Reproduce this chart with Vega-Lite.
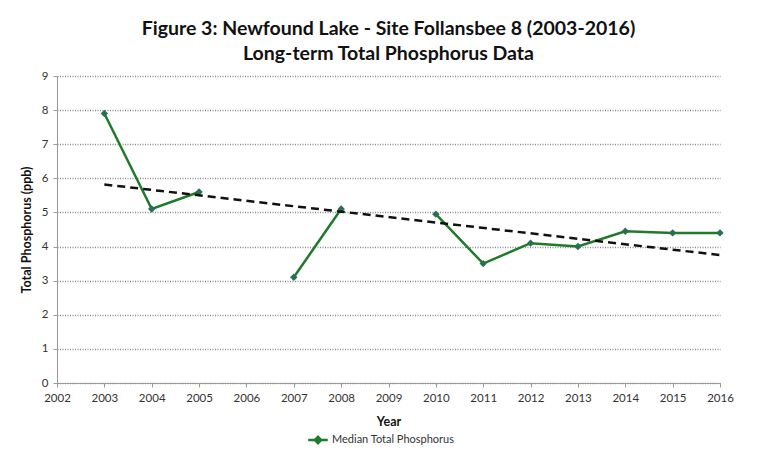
{
  "$schema": "https://vega.github.io/schema/vega-lite/v6.json",
  "width": 663,
  "height": 307,
  "autosize": {"type": "none"},
  "padding": {"left": 57, "top": 76, "right": 54, "bottom": 73},
  "background": "white",
  "config": {
    "font": "Lato",
    "view": {"stroke": null},
    "axis": {"labelFont": "Lato", "titleFont": "Lato", "labelColor": "#333333", "titleColor": "#111111", "labelFontSize": 11.5, "titleFontSize": 12.5, "titleFontWeight": "bold"}
  },
  "title": {
    "text": ["Figure 3: Newfound Lake - Site Follansbee 8 (2003-2016)", "Long-term Total Phosphorus Data"],
    "fontSize": 19.5,
    "fontWeight": "bold",
    "font": "Lato",
    "color": "#111111",
    "anchor": "middle",
    "frame": "group",
    "lineHeight": 25,
    "offset": 6
  },
  "datasets": {
    "tp": [
      {"year": 2003, "tp": 7.9},
      {"year": 2004, "tp": 5.1},
      {"year": 2005, "tp": 5.6},
      {"year": 2006, "tp": null},
      {"year": 2007, "tp": 3.1},
      {"year": 2008, "tp": 5.1},
      {"year": 2009, "tp": null},
      {"year": 2010, "tp": 4.95},
      {"year": 2011, "tp": 3.5},
      {"year": 2012, "tp": 4.1},
      {"year": 2013, "tp": 4.0},
      {"year": 2014, "tp": 4.45},
      {"year": 2015, "tp": 4.4},
      {"year": 2016, "tp": 4.4}
    ],
    "trend": [
      {"year": 2003, "tp": 5.82},
      {"year": 2016, "tp": 3.75}
    ]
  },
  "encoding": {
    "x": {
      "field": "year", "type": "quantitative",
      "scale": {"domain": [2002, 2016], "nice": false, "zero": false},
      "axis": {"title": "Year", "format": "d", "values": [2002,2003,2004,2005,2006,2007,2008,2009,2010,2011,2012,2013,2014,2015,2016], "grid": false, "labelFlush": false, "domainColor": "#999999", "tickColor": "#999999", "tickSize": 4, "labelPadding": 5, "titlePadding": 12}
    },
    "y": {
      "field": "tp", "type": "quantitative",
      "scale": {"domain": [0, 9], "nice": false},
      "axis": {"title": "Total Phosphorus (ppb)", "values": [0,1,2,3,4,5,6,7,8,9], "grid": true, "gridColor": "#888888", "gridDash": [1, 1.5], "gridWidth": 1.3, "domainColor": "#999999", "tickColor": "#999999", "tickSize": 4, "labelPadding": 5, "labelFlush": false, "titlePadding": 8}
    }
  },
  "layer": [
    {
      "data": {"name": "tp"},
      "mark": {"type": "line", "strokeWidth": 2.5},
      "encoding": {
        "color": {
          "datum": "Median Total Phosphorus",
          "type": "nominal",
          "scale": {"range": ["#1f7a2a"]},
          "legend": {
            "title": null,
            "orient": "none",
            "legendX": 250,
            "legendY": 353,
            "direction": "horizontal",
            "symbolType": "M-1,0H1M0,-0.32L0.32,0L0,0.32L-0.32,0Z",
            "symbolSize": 380,
            "symbolStrokeWidth": 2.5,
            "symbolFillColor": "#2b6e55",
            "labelFont": "Lato",
            "labelFontSize": 11,
            "labelColor": "#333333",
            "labelOffset": 3
          }
        }
      }
    },
    {
      "data": {"name": "tp"},
      "mark": {"type": "point", "shape": "diamond", "filled": true, "size": 55, "color": "#2b6e55", "opacity": 1}
    },
    {
      "data": {"name": "trend"},
      "mark": {"type": "line", "color": "#111111", "strokeWidth": 2.5, "strokeDash": [8, 5]}
    }
  ]
}
